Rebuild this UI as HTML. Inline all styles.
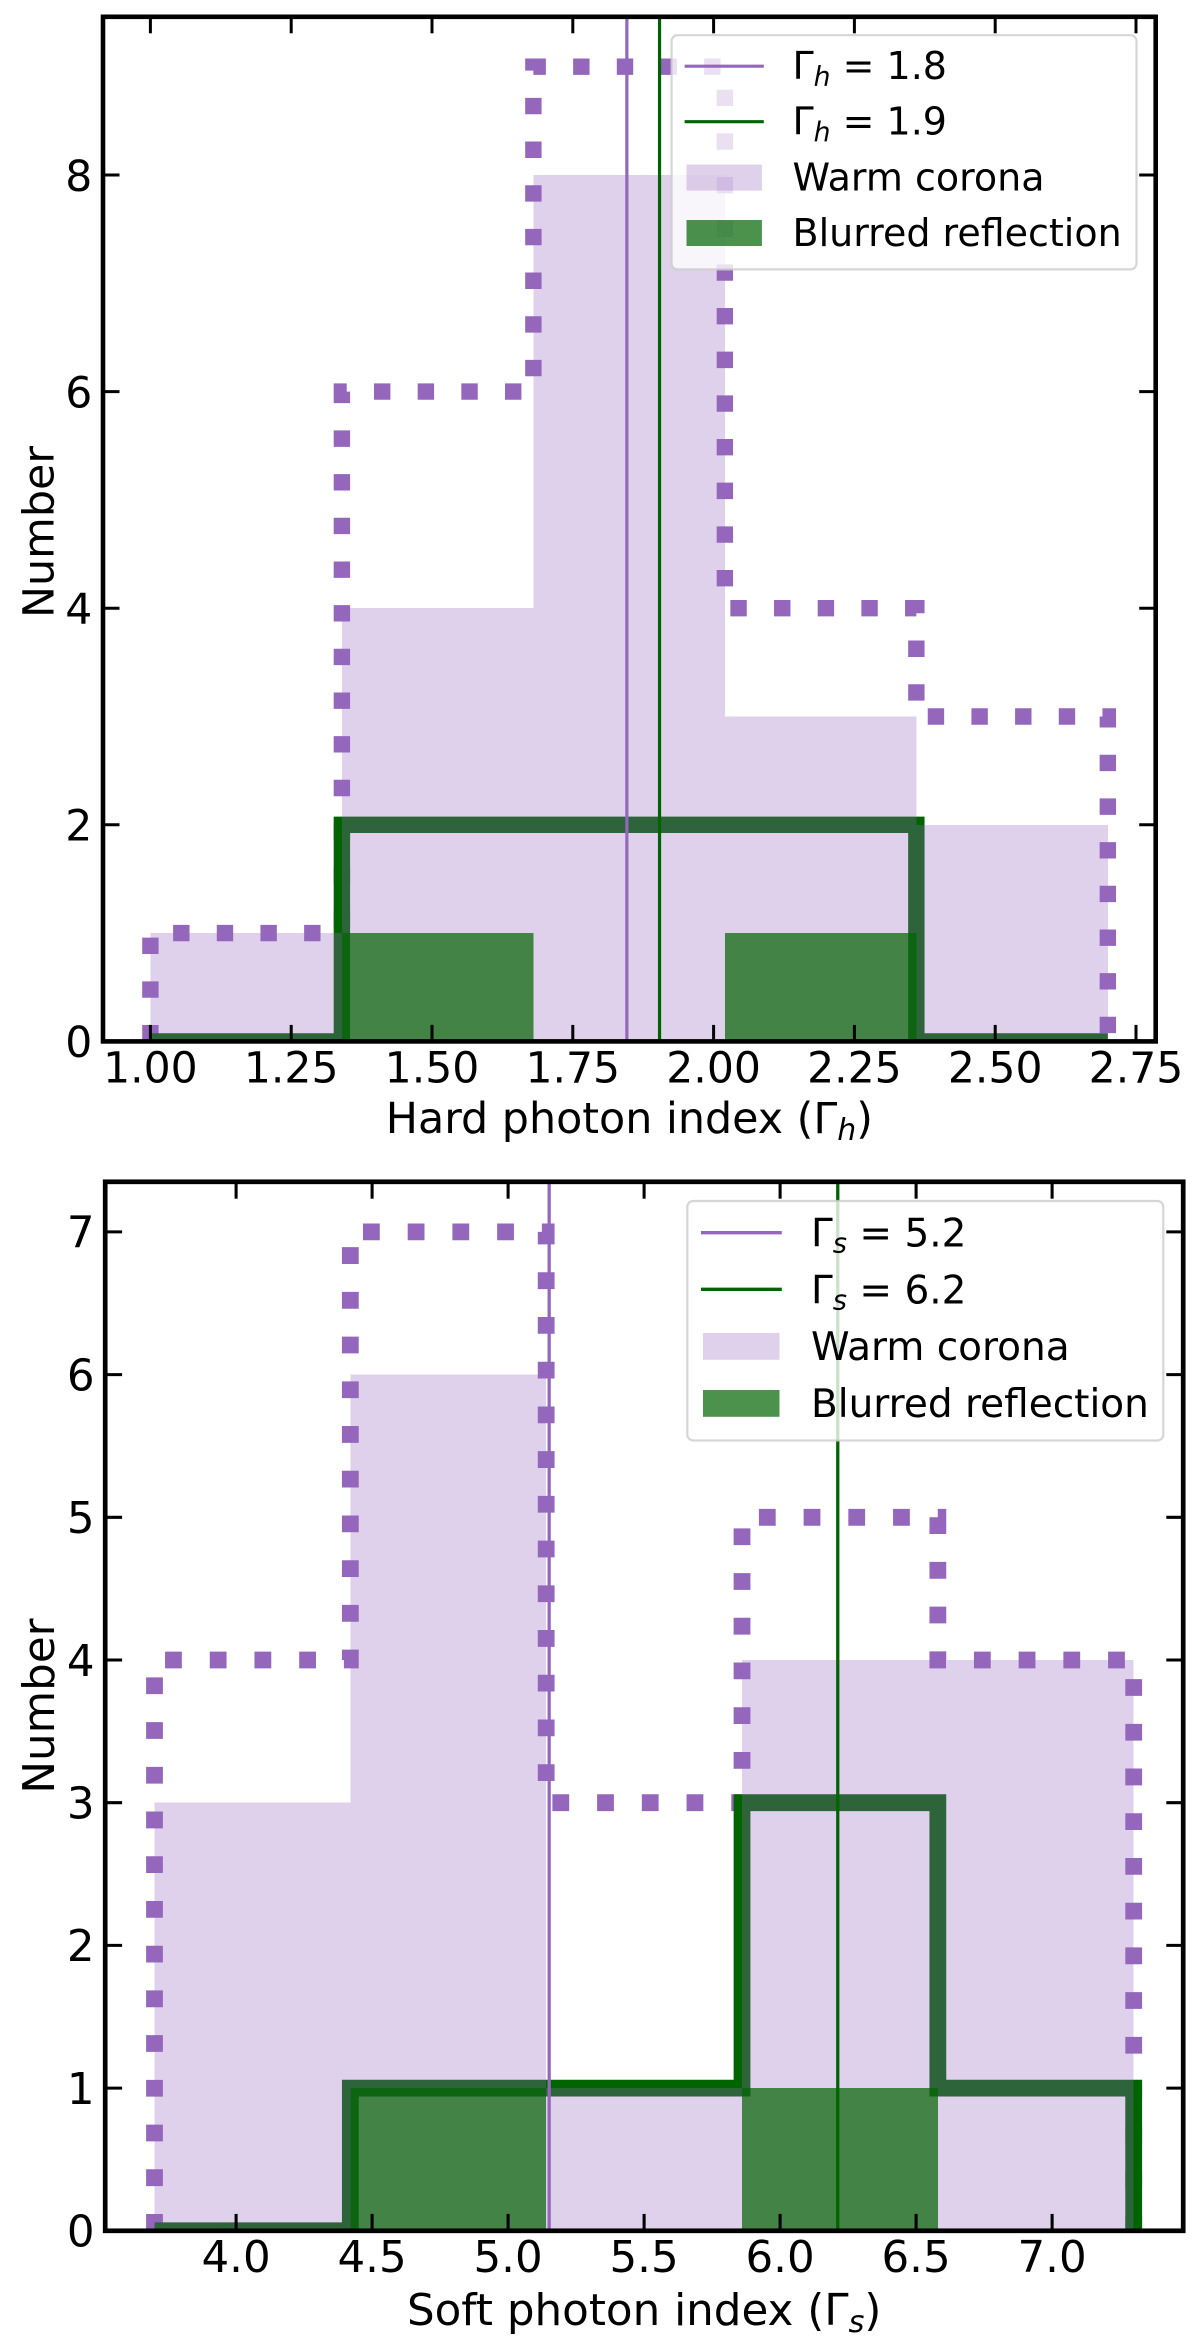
<!DOCTYPE html>
<html lang="en">
<head>
<meta charset="utf-8">
<title>Hard and soft photon index histograms</title>
<style>
html,body{margin:0;padding:0;background:#fff;}
svg{display:block;}
text{font-family:"DejaVu Sans","Liberation Sans",sans-serif;fill:#000;}
</style>
</head>
<body>
<svg id="chart" xmlns="http://www.w3.org/2000/svg" width="1200" height="2352" viewBox="0 0 1200 2352"></svg>
<script>
// ---- Hard photon index panel data ----
const hardBinEdges = [1.0, 1.34, 1.68, 2.02, 2.36, 2.7];
const hardWarmFilled = [1, 4, 8, 3, 2];
const hardWarmStep = [1, 6, 9, 4, 3];
const hardBlurFilled = [0, 1, 0, 1, 0];
const hardBlurStep = [0, 2, 2, 2, 0];
const hardMedians = [1.846, 1.904];
const hardMedianLabels = ['1.8', '1.9'];
const hardXTicks = [1.0, 1.25, 1.5, 1.75, 2.0, 2.25, 2.5, 2.75];
const hardXTickLabels = ['1.00', '1.25', '1.50', '1.75', '2.00', '2.25', '2.50', '2.75'];
const hardYTicks = [0, 2, 4, 6, 8];
const hardYTickLabels = ['0', '2', '4', '6', '8'];

// ---- Soft photon index panel data ----
const softBinEdges = [3.7, 4.42, 5.14, 5.86, 6.58, 7.3];
const softWarmFilled = [3, 6, 1, 4, 4];
const softWarmStep = [4, 7, 3, 5, 4];
const softBlurFilled = [0, 1, 0, 1, 0];
const softBlurStep = [0, 1, 1, 3, 1];
const softMedians = [5.151, 6.212];
const softMedianLabels = ['5.2', '6.2'];
const softXTicks = [4.0, 4.5, 5.0, 5.5, 6.0, 6.5, 7.0];
const softXTickLabels = ['4.0', '4.5', '5.0', '5.5', '6.0', '6.5', '7.0'];
const softYTicks = [0, 1, 2, 3, 4, 5, 6, 7];
const softYTickLabels = ['0', '1', '2', '3', '4', '5', '6', '7'];

const SVG_NS = 'http://www.w3.org/2000/svg';
const PURPLE = '#9467bd';
const GREEN = '#006400';

function make(parent, tag, attrs) {
  const node = document.createElementNS(SVG_NS, tag);
  for (const key in attrs) {
    node.setAttribute(key, attrs[key]);
  }
  parent.appendChild(node);
  return node;
}

function stepPath(edges, values, x, y) {
  let d = 'M' + x(edges[0]) + ' ' + y(0);
  for (let i = 0; i < values.length; i++) {
    d += ' L' + x(edges[i]) + ' ' + y(values[i]);
    d += ' L' + x(edges[i + 1]) + ' ' + y(values[i]);
  }
  d += ' L' + x(edges[edges.length - 1]) + ' ' + y(0);
  return d;
}

function addMathLabel(parent, px, py, size, subscript, rest) {
  const label = make(parent, 'text', {x: px, y: py, 'font-size': size});
  const gamma = make(label, 'tspan', {});
  gamma.textContent = 'Γ';
  const sub = make(label, 'tspan', {dy: size * 0.16, 'font-size': size * 0.7, 'font-style': 'italic'});
  sub.textContent = subscript;
  const tail = make(label, 'tspan', {dy: -size * 0.16});
  tail.textContent = rest;
  label.setAttribute('xml:space', 'preserve');
  label.style.whiteSpace = 'pre';
  return label;
}

function drawPanel(cfg) {
  const root = document.getElementById('chart');
  const s = cfg.scale;
  const x = v => cfg.xAt + (v - cfg.xRef) * cfg.xPerUnit;
  const y = v => cfg.y0 - v * cfg.yPerUnit;

  const panel = make(root, 'g', {});
  
  

  const clipDef = make(panel, 'clipPath', {id: cfg.id + '-clip'});
  make(clipDef, 'rect', {x: cfg.left, y: cfg.top, width: cfg.right - cfg.left, height: cfg.y0 - cfg.top});

  const plot = make(panel, 'g', {'clip-path': 'url(#' + cfg.id + '-clip)'});
  
  

  // dotted warm-corona outline
  const warmLine = make(plot, 'path', {
    d: stepPath(cfg.edges, cfg.warmStep, x, y), fill: 'none', stroke: PURPLE,
    'stroke-width': 16.4 * s, 'stroke-dasharray': (16.4 * s) + ' ' + (27.27 * s),
    'stroke-linejoin': 'miter', 'stroke-linecap': 'butt'
  });
  
  

  // thick blurred-reflection outline
  const blurLine = make(plot, 'path', {
    d: stepPath(cfg.edges, cfg.blurStep, x, y), fill: 'none', stroke: GREEN,
    'stroke-width': 16.4 * s, 'stroke-linejoin': 'miter', 'stroke-linecap': 'butt'
  });
  
  

  // filled warm-corona histogram
  cfg.warmFilled.forEach((value, i) => {
    const bar = make(plot, 'rect', {
      x: x(cfg.edges[i]), y: y(value), width: x(cfg.edges[i + 1]) - x(cfg.edges[i]),
      height: y(0) - y(value), fill: PURPLE, 'fill-opacity': 0.3, 'shape-rendering': 'crispEdges'
    });
    
    
  });

  // filled blurred-reflection histogram
  cfg.blurFilled.forEach((value, i) => {
    const bar = make(plot, 'rect', {
      x: x(cfg.edges[i]), y: y(value), width: x(cfg.edges[i + 1]) - x(cfg.edges[i]),
      height: y(0) - y(value), fill: GREEN, 'fill-opacity': 0.7, 'shape-rendering': 'crispEdges'
    });
    
    
  });

  // median lines
  const warmMedian = make(plot, 'line', {
    x1: x(cfg.medians[0]), x2: x(cfg.medians[0]), y1: cfg.top, y2: cfg.y0,
    stroke: PURPLE, 'stroke-width': 3.2 * s
  });
  
  
  const blurMedian = make(plot, 'line', {
    x1: x(cfg.medians[1]), x2: x(cfg.medians[1]), y1: cfg.top, y2: cfg.y0,
    stroke: GREEN, 'stroke-width': 3.2 * s
  });
  
  

  // ticks and tick labels
  const tickLen = 16.5 * s;
  cfg.xTicks.forEach((value, i) => {
    const bottomTick = make(panel, 'line', {x1: x(value), x2: x(value), y1: cfg.y0, y2: cfg.y0 - tickLen, stroke: '#000', 'stroke-width': 3 * s});
    
    
    const topTick = make(panel, 'line', {x1: x(value), x2: x(value), y1: cfg.top, y2: cfg.top + tickLen, stroke: '#000', 'stroke-width': 3 * s});
    
    
    const label = make(panel, 'text', {x: x(value), y: cfg.y0 + 41, 'font-size': cfg.tickFont, 'text-anchor': 'middle'});
    label.textContent = cfg.xTickLabels[i];
    
    
  });
  cfg.yTicks.forEach((value, i) => {
    const leftTick = make(panel, 'line', {x1: cfg.left, x2: cfg.left + tickLen, y1: y(value), y2: y(value), stroke: '#000', 'stroke-width': 3 * s});
    
    
    const rightTick = make(panel, 'line', {x1: cfg.right, x2: cfg.right - tickLen, y1: y(value), y2: y(value), stroke: '#000', 'stroke-width': 3 * s});
    
    
    const label = make(panel, 'text', {x: cfg.left - 10.7, y: y(value) + 15.8, 'font-size': cfg.tickFont, 'text-anchor': 'end'});
    label.textContent = cfg.yTickLabels[i];
    
    
  });

  // spines
  const frame = make(panel, 'rect', {
    x: cfg.left, y: cfg.top, width: cfg.right - cfg.left, height: cfg.y0 - cfg.top,
    fill: 'none', stroke: '#000', 'stroke-width': 4.6 * s
  });
  
  

  // axis titles
  const xTitle = addMathLabel(panel, (cfg.left + cfg.right) / 2, cfg.xTitleY, cfg.titleFont, cfg.sub, ')');
  xTitle.setAttribute('text-anchor', 'middle');
  xTitle.insertBefore(document.createTextNode(cfg.xTitle + ' ('), xTitle.firstChild);
  
  

  const yTitle = make(panel, 'text', {
    x: 0, y: 0, 'font-size': cfg.titleFont, 'text-anchor': 'middle',
    transform: 'translate(' + cfg.yTitleX + ' ' + cfg.yTitleY + ') rotate(-90)'
  });
  yTitle.textContent = 'Number';
  
  

  // legend
  const L = cfg.legend;
  const legend = make(panel, 'g', {});
  
  
  const box = make(legend, 'rect', {
    x: L.x1, y: L.y1, width: L.x2 - L.x1, height: L.y2 - L.y1, rx: 6, ry: 6,
    fill: '#fff', 'fill-opacity': 0.8, stroke: '#ccc', 'stroke-opacity': 0.8, 'stroke-width': 2.2
  });
  
  

  const key1 = make(legend, 'line', {x1: L.lineX1, x2: L.lineX2, y1: L.rowY[0], y2: L.rowY[0], stroke: PURPLE, 'stroke-width': 3.2 * s});
  
  
  const text1 = addMathLabel(legend, L.textX, L.base[0], L.font, cfg.sub, ' = ' + cfg.medianLabels[0]);
  
  

  const key2 = make(legend, 'line', {x1: L.lineX1, x2: L.lineX2, y1: L.rowY[1], y2: L.rowY[1], stroke: GREEN, 'stroke-width': 3.2 * s});
  
  
  const text2 = addMathLabel(legend, L.textX, L.base[1], L.font, cfg.sub, ' = ' + cfg.medianLabels[1]);
  
  

  const key3 = make(legend, 'rect', {x: L.patchX1, width: L.patchX2 - L.patchX1, y: L.patchY[0], height: L.patchH, fill: PURPLE, 'fill-opacity': 0.3});
  
  
  const text3 = make(legend, 'text', {x: L.textX, y: L.base[2], 'font-size': L.font});
  text3.textContent = 'Warm corona';
  
  

  const key4 = make(legend, 'rect', {x: L.patchX1, width: L.patchX2 - L.patchX1, y: L.patchY[1], height: L.patchH, fill: GREEN, 'fill-opacity': 0.7});
  
  
  const text4 = make(legend, 'text', {x: L.textX, y: L.base[3], 'font-size': L.font});
  text4.textContent = 'Blurred reflection';
  
  
}

drawPanel({
  id: 'hard', scale: 1, sub: 'h',
  left: 103, right: 1155.7, top: 16.8, y0: 1041.4,
  xRef: 1, xAt: 150.4, xPerUnit: 563.2, yPerUnit: 108.3,
  edges: hardBinEdges, warmFilled: hardWarmFilled, warmStep: hardWarmStep,
  blurFilled: hardBlurFilled, blurStep: hardBlurStep, medians: hardMedians, medianLabels: hardMedianLabels,
  xTicks: hardXTicks, xTickLabels: hardXTickLabels, yTicks: hardYTicks, yTickLabels: hardYTickLabels,
  tickFont: 42.5, titleFont: 42.8, xTitle: 'Hard photon index', xTitleY: 1133, yTitleX: 53.5, yTitleY: 532,
  legend: {
    x1: 671.6, x2: 1136.5, y1: 35.2, y2: 269.4, font: 38, textX: 792.5,
    lineX1: 684.6, lineX2: 763.8, rowY: [66.2, 121.7], patchX1: 686.5, patchX2: 761.9,
    patchY: [164.6, 220], patchH: 26, base: [79.2, 134.7, 190.6, 246]
  }
});

drawPanel({
  id: 'soft', scale: 1.024, sub: 's',
  left: 105.2, right: 1183.2, top: 1181.8, y0: 2230.8,
  xRef: 4, xAt: 236.1, xPerUnit: 272, yPerUnit: 142.7,
  edges: softBinEdges, warmFilled: softWarmFilled, warmStep: softWarmStep,
  blurFilled: softBlurFilled, blurStep: softBlurStep, medians: softMedians, medianLabels: softMedianLabels,
  xTicks: softXTicks, xTickLabels: softXTickLabels, yTicks: softYTicks, yTickLabels: softYTickLabels,
  tickFont: 43.5, titleFont: 43.6, xTitle: 'Soft photon index', xTitleY: 2325, yTitleX: 54, yTitleY: 1706,
  legend: {
    x1: 687.3, x2: 1163.3, y1: 1201, y2: 1440.5, font: 39, textX: 811,
    lineX1: 701, lineX2: 781.8, rowY: [1232.7, 1289.3], patchX1: 703, patchX2: 779.5,
    patchY: [1333, 1390], patchH: 26.8, base: [1246.5, 1303.5, 1359.8, 1416.8]
  }
});
</script>
</body>
</html>
